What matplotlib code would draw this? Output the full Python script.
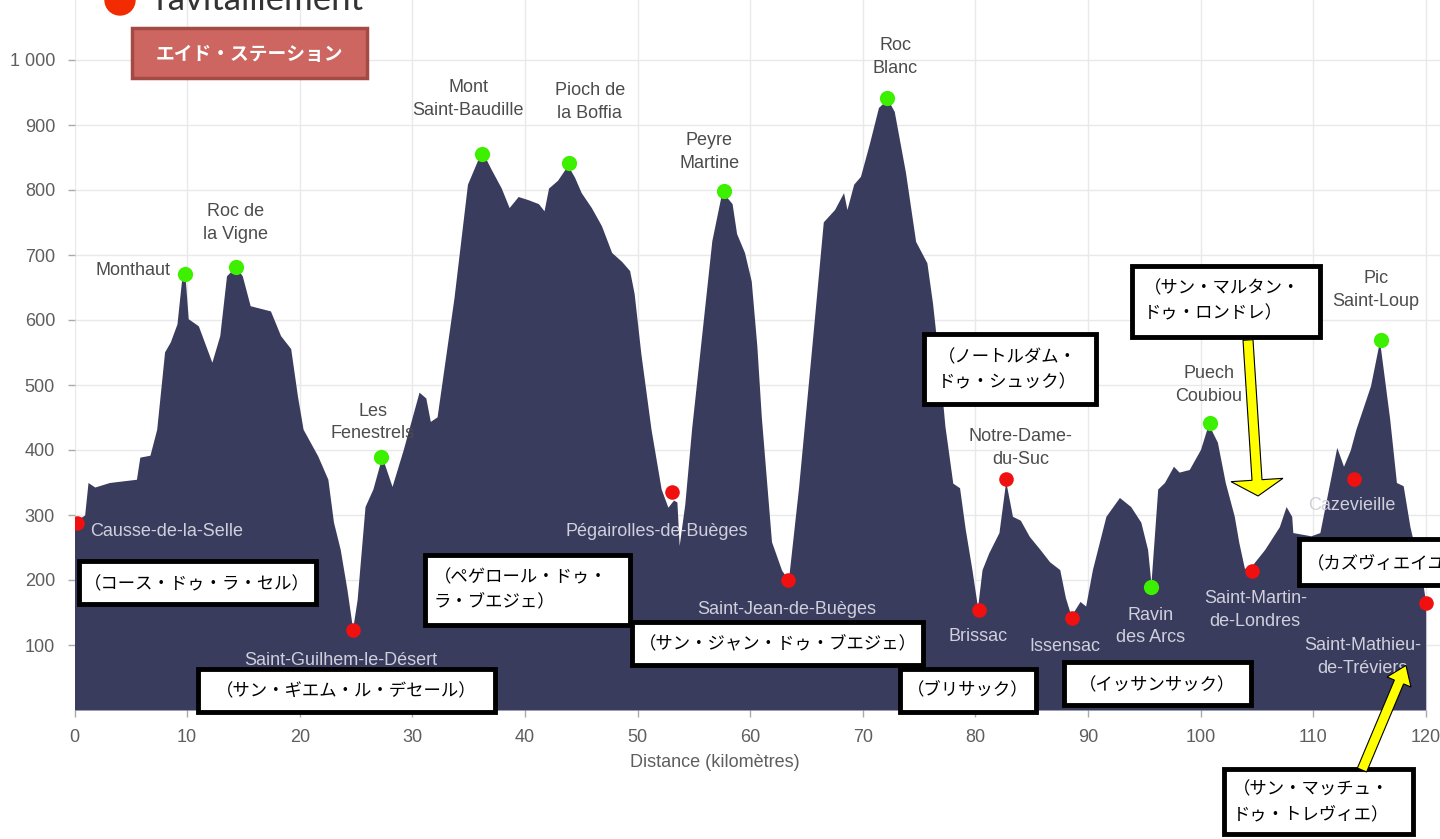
import matplotlib
matplotlib.use("Agg")
import matplotlib.pyplot as plt
from matplotlib.patches import Rectangle, FancyArrow, Circle

plt.rcParams['font.family'] = ['Liberation Sans', 'DejaVu Sans']

# elevation profile (km, metres)
dist_km = [0.0, 0.9, 1.2, 1.8, 3.1, 5.5, 5.8, 6.7, 7.3, 8.0, 8.5, 9.1, 9.5, 9.8, 10.1,
           11.0, 12.2, 12.9, 13.5, 14.3, 14.9, 15.6, 17.4, 18.3, 19.2, 19.8, 20.3, 21.6,
           22.5, 23.0, 23.6, 24.2, 24.7, 25.1, 25.8, 26.5, 27.3, 28.2, 29.2, 30.6, 31.2,
           31.6, 32.2, 33.7, 34.9, 35.8, 36.3, 37.0, 37.9, 38.6, 39.4, 40.3, 41.2, 41.7,
           42.1, 42.9, 43.8, 44.4, 45.0, 45.9, 46.8, 47.7, 48.6, 49.3, 49.7, 50.3, 51.2,
           52.1, 52.7, 53.2, 53.5, 53.7, 54.2, 54.8, 55.7, 56.6, 57.5, 58.4, 58.8, 59.5,
           60.1, 60.6, 61.0, 61.9, 62.8, 63.4, 64.3, 65.5, 66.5, 67.5, 68.3, 68.6, 69.2,
           69.8, 70.6, 71.4, 72.2, 72.8, 73.8, 74.7, 75.7, 76.2, 76.8, 77.3, 78.0, 78.6,
           79.1, 79.7, 80.2, 80.6, 81.2, 82.1, 82.7, 83.3, 84.0, 84.8, 85.7, 86.6, 87.5,
           88.0, 88.5, 89.3, 89.8, 90.4, 91.6, 92.8, 93.8, 94.7, 95.3, 95.6, 96.2, 96.8,
           97.6, 98.1, 99.0, 100.0, 100.7, 101.5, 102.2, 103.0, 103.4, 103.9, 104.5, 105.7,
           107.0, 107.6, 108.1, 108.2, 109.8, 110.6, 112.1, 112.7, 113.3, 113.8, 115.1,
           115.9, 116.8, 117.4, 118.0, 118.6, 119.7, 120.0]
elev_m = [290, 300, 350, 343, 350, 355, 389, 392, 432, 551, 566, 594, 660, 671, 602,
          591, 535, 576, 668, 682, 668, 622, 614, 576, 556, 483, 432, 391,
          355, 289, 247, 185, 125, 170, 313, 340, 390, 344, 401, 489, 480,
          444, 451, 634, 809, 846, 856, 832, 803, 773, 790, 785, 779, 768,
          803, 815, 838, 820, 796, 773, 745, 704, 690, 676, 641, 548, 432,
          340, 312, 323, 320, 253, 317, 432, 577, 722, 798, 779, 733, 704,
          660, 560, 450, 259, 215, 200, 342, 563, 751, 770, 796, 770, 809,
          821, 872, 927, 940, 921, 827, 721, 688, 626, 531, 437, 349, 342,
          279, 216, 158, 216, 242, 273, 352, 298, 292, 267, 248, 228, 216,
          173, 145, 167, 160, 216, 298, 327, 313, 289, 247, 195, 340, 350,
          375, 366, 370, 401, 440, 412, 350, 298, 258, 218, 221, 247,
          282, 313, 298, 273, 268, 273, 404, 375, 400, 432, 499,
          568, 448, 350, 345, 282, 200, 165]

# summits (green)
summit_names = ['Monthaut', 'Roc de\nla Vigne', 'Les\nFenestrels', 'Mont\nSaint-Baudille',
                'Pioch de\nla Boffia', 'Peyre\nMartine', 'Roc\nBlanc', 'Ravin\ndes Arcs',
                'Puech\nCoubiou', 'Pic\nSaint-Loup']
summit_km = [9.8, 14.3, 27.2, 36.2, 43.9, 57.7, 72.2, 95.6, 100.8, 116.0]
summit_elev = [671, 682, 390, 856, 841, 799, 941, 190, 441, 569]

# aid stations (red)
aid_names = ['Causse-de-la-Selle', 'Saint-Guilhem-le-Désert', 'Pégairolles-de-Buèges',
             'Saint-Jean-de-Buèges', 'Brissac', 'Notre-Dame-\ndu-Suc', 'Issensac',
             'Saint-Martin-\nde-Londres', 'Cazevieille', 'Saint-Mathieu-\nde-Tréviers']
aid_km = [0.2, 24.7, 53.1, 63.4, 80.3, 82.7, 88.6, 104.6, 113.6, 120.0]
aid_elev = [287, 123, 336, 200, 154, 355, 142, 214, 355, 164]

# label offsets in pixels (dx, dy up, ha), and whether label sits on the dark area
label_layout = {
    'Monthaut': (-14, 3, 'right', False),
    'Roc de\nla Vigne': (0, 44, 'center', False),
    'Les\nFenestrels': (-8, 34, 'center', False),
    'Mont\nSaint-Baudille': (-14, 55, 'center', False),
    'Pioch de\nla Boffia': (21, 61, 'center', False),
    'Peyre\nMartine': (-15, 39, 'center', False),
    'Roc\nBlanc': (8, 41, 'center', False),
    'Ravin\ndes Arcs': (0, -40, 'center', True),
    'Puech\nCoubiou': (-1, 38, 'center', False),
    'Pic\nSaint-Loup': (-5, 50, 'center', False),
    'Causse-de-la-Selle': (13, -8, 'left', True),
    'Saint-Guilhem-le-Désert': (-12, -30, 'center', True),
    'Pégairolles-de-Buèges': (-16, -40, 'center', True),
    'Saint-Jean-de-Buèges': (-2, -30, 'center', True),
    'Brissac': (-1, -27, 'center', True),
    'Notre-Dame-\ndu-Suc': (15, 31, 'center', False),
    'Issensac': (-7, -29, 'center', True),
    'Saint-Martin-\nde-Londres': (3, -39, 'center', True),
    'Cazevieille': (-2, -26, 'center', True),
    'Saint-Mathieu-\nde-Tréviers': (-63, -54, 'center', True),
}

# Japanese notes
ja_notes = ['（コース・ドゥ・ラ・セル）', '（サン・ギエム・ル・デセール）',
            '（ペゲロール・ドゥ・\nラ・ブエジェ）', '（サン・ジャン・ドゥ・ブエジェ）',
            '（ブリサック）', '（イッサンサック）', '（ノートルダム・\nドゥ・シュック）',
            '（サン・マルタン・\nドゥ・ロンドレ）', '（カズヴィエイユ）',
            '（サン・マッチュ・\nドゥ・トレヴィエ）']
# box geometry in pixels: x0, y0, x1, y1, text x, text y, ha
note_boxes = [(79, 561, 316, 604, 197, 584, 'center'),
              (198, 669, 495, 712, 346, 691, 'center'),
              (425, 555, 630, 625, 434, 590, 'left'),
              (632, 622, 923, 665, 778, 644, 'center'),
              (900, 669, 1036, 712, 968, 690, 'center'),
              (1064, 662, 1251, 705, 1157, 685, 'center'),
              (924, 334, 1096, 404, 938, 370, 'left'),
              (1132, 266, 1320, 337, 1144, 301, 'left'),
              (1299, 539, 1460, 585, 1307, 563, 'left'),
              (1224, 769, 1413, 834, 1233, 802, 'left')]

area_color = '#3a3c5e'

fig = plt.figure(figsize=(14.4, 8.39), dpi=100)
ax = fig.add_axes([74.5 / 1440, 1 - 710 / 839, 1 - 74.5 / 1440, 710 / 839])
ax.set_xlim(0, (1440 - 74.5) / 11.26)
ax.set_ylim(0, 710 / 0.65)

ax.fill_between(dist_km, elev_m, 0, color=area_color, lw=0, zorder=2)
ax.scatter(summit_km, summit_elev, s=120, color='#3cf000', zorder=4, lw=0)
ax.scatter(aid_km, aid_elev, s=110, color='#f01010', zorder=4, lw=0)

for name, xk, ye in zip(summit_names + aid_names, summit_km + aid_km, summit_elev + aid_elev):
    dx, dy, ha, inside = label_layout[name]
    ax.annotate(name, (xk, ye), xytext=(dx, dy), textcoords='offset pixels',
                ha=ha, va='center', fontsize=13, linespacing=1.45,
                color='#cfd0dc' if inside else '#4c4c4c', zorder=5)

ax.set_xticks(range(0, 121, 10))
ax.set_yticks(range(100, 1001, 100))
ax.set_yticklabels(['100', '200', '300', '400', '500', '600', '700', '800', '900', '1 000'])
ax.tick_params(axis='both', colors='#aaaaaa', labelcolor='#5e5e5e', labelsize=13,
               length=5, width=1)
ax.tick_params(axis='y', pad=9)
ax.tick_params(axis='x', pad=9)
ax.grid(True, color='#e9e9e9', lw=1)
ax.set_axisbelow(True)
for s in ax.spines.values():
    s.set_visible(False)
ax.set_xlabel('Distance (kilomètres)', fontsize=13, color='#5e5e5e')
ax.xaxis.set_label_coords((715 - 74.5) / 1365.5, -44 / 710)

# overlay in pixel coordinates for the notes
ov = fig.add_axes([0, 0, 1, 1], zorder=5)
ov.set_xlim(0, 1440)
ov.set_ylim(839, 0)
ov.axis('off')

ov.add_patch(Circle((120, 0), 15, color='#f32b00', clip_on=False))
ov.text(155, 10, 'ravitaillement', fontsize=25, family=['Lato', 'DejaVu Sans'],
        color='#333333', va='baseline', ha='left')

ov.add_patch(Rectangle((132, 28), 235, 50, fc='#cd6660', ec='#a44a45', lw=2.5))
ov.text(249, 54, 'エイド・ステーション', fontsize=13.5, fontweight='bold', color='white',
        ha='center', va='center', family=['Noto Sans CJK JP', 'DejaVu Sans'])

for txt, (x0, y0, x1, y1, tx, ty, ha) in zip(ja_notes, note_boxes):
    ov.add_patch(Rectangle((x0, y0), x1 - x0, y1 - y0, fc='white', ec='black', lw=3.5,
                           clip_on=False))
    ov.text(tx, ty, txt, fontsize=12.5, ha=ha, va='center', linespacing=1.5,
            family=['Noto Sans CJK JP', 'DejaVu Sans'], color='black')

ov.add_patch(FancyArrow(1248, 340, 9, 140, width=10, head_width=52, head_length=16,
                        length_includes_head=False, fc='#ffff00', ec='black', lw=0.8))
ov.add_patch(FancyArrow(1362, 770, 37, -88, width=10, head_width=26, head_length=18,
                        length_includes_head=False, fc='#ffff00', ec='black', lw=0.8))

fig.savefig('out.png', dpi=100)
